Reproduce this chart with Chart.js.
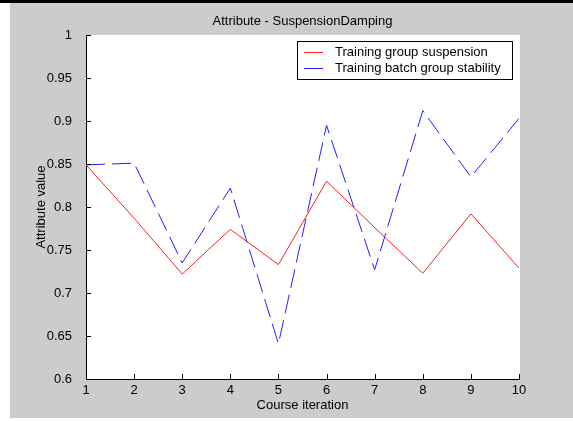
<!DOCTYPE html>
<html>
<head>
<meta charset="utf-8">
<script src="https://cdn.jsdelivr.net/npm/chart.js@4"></script>
<style>
  html, body { margin: 0; padding: 0; background: #fff; }
  #wrap { width: 573px; height: 421px; position: relative; }
</style>
</head>
<body>
<div id="wrap"><canvas id="attrChart" width="573" height="421"></canvas></div>
<script>
const ITERATIONS = ['1', '2', '3', '4', '5', '6', '7', '8', '9', '10'];
const SUSPENSION = [0.849, 0.787, 0.722, 0.774, 0.733, 0.830, 0.776, 0.723, 0.792, 0.729];
const STABILITY  = [0.849, 0.851, 0.735, 0.822, 0.641, 0.895, 0.727, 0.912, 0.835, 0.903];
const SERIES_NAMES = ['Training group suspension', 'Training batch group stability'];
const TITLE = 'Attribute - SuspensionDamping';

const FONT = "'Liberation Sans', Arial, sans-serif";
const FONT_SIZE = 13;

// figure backdrop: dark strip on top, grey panel, white axes area
const backdrop = {
  id: 'backdrop',
  beforeDraw(chart) {
    const { ctx, chartArea: { left, top, right, bottom } } = chart;
    ctx.save();
    ctx.fillStyle = '#fff';
    ctx.fillRect(0, 0, chart.width, chart.height);
    ctx.fillStyle = '#000';
    ctx.fillRect(0, 0, chart.width, 3);
    ctx.fillStyle = '#cccccc';
    ctx.fillRect(10, 3, chart.width - 10, 415);
    ctx.fillStyle = '#fff';
    ctx.fillRect(left, top, right - left + 1, bottom - top);
    ctx.restore();
  },
};

// short tick marks pointing into the axes, plus title and legend box
const decorations = {
  id: 'decorations',
  afterDraw(chart) {
    const { ctx, scales: { x, y }, chartArea } = chart;
    ctx.save();
    ctx.strokeStyle = '#000';
    ctx.lineWidth = 1;
    ctx.beginPath();
    x.ticks.forEach((t, i) => {
      const px = Math.round(x.getPixelForTick(i)) + 0.5;
      ctx.moveTo(px, chartArea.bottom);
      ctx.lineTo(px, chartArea.bottom - 5);
    });
    y.ticks.forEach((t, i) => {
      const py = Math.round(y.getPixelForTick(i)) + 0.5;
      ctx.moveTo(chartArea.left, py);
      ctx.lineTo(chartArea.left + 5, py);
    });
    ctx.stroke();

    ctx.fillStyle = '#000';
    ctx.font = FONT_SIZE + 'px ' + FONT;
    ctx.textAlign = 'center';
    ctx.textBaseline = 'middle';
    ctx.fillText(TITLE, (chartArea.left + chartArea.right) / 2, 21);

    // legend
    const bx = 297, by = 41, bw = 215, bh = 38;
    ctx.fillStyle = '#fff';
    ctx.fillRect(bx, by, bw, bh);
    ctx.strokeStyle = '#000';
    ctx.strokeRect(bx + 0.5, by + 0.5, bw, bh);
    ctx.textAlign = 'left';
    chart.data.datasets.forEach((ds, i) => {
      const ly = 52.5 + i * 16;
      ctx.strokeStyle = ds.borderColor;
      ctx.beginPath();
      ctx.moveTo(304, ly);
      ctx.lineTo(323, ly);
      ctx.stroke();
      ctx.fillStyle = '#000';
      ctx.fillText(ds.label, 335, ly);
    });
    ctx.restore();
  },
};

new Chart(document.getElementById('attrChart').getContext('2d'), {
  type: 'line',
  plugins: [backdrop, decorations],
  data: {
    labels: ITERATIONS,
    datasets: [
      {
        label: SERIES_NAMES[0],
        data: SUSPENSION,
        borderColor: '#ff2020',
        borderWidth: 1,
        pointRadius: 0,
        tension: 0,
        fill: false,
      },
      {
        label: SERIES_NAMES[1],
        data: STABILITY,
        borderColor: '#2020ff',
        borderWidth: 1,
        borderDash: [19, 7],
        pointRadius: 0,
        tension: 0,
        fill: false,
      },
    ],
  },
  options: {
    responsive: false,
    animation: false,
    devicePixelRatio: 1,
    layout: { padding: { left: 0, top: 35, right: 54, bottom: 0 } },
    plugins: {
      legend: { display: false },
      tooltip: { enabled: false },
    },
    scales: {
      x: {
        type: 'category',
        offset: false,
        grid: { display: false, offset: false },
        border: { display: true, color: '#000', width: 1 },
        ticks: { color: '#000', padding: -4, font: { family: FONT, size: FONT_SIZE }, maxRotation: 0, autoSkip: false },
        title: { display: true, text: 'Course iteration', color: '#000', font: { family: FONT, size: FONT_SIZE }, padding: { top: 0, bottom: 8 } },
        afterFit(scale) { scale.height = 42; },
      },
      y: {
        min: 0.6,
        max: 1,
        grid: { display: false },
        border: { display: true, color: '#000', width: 1 },
        ticks: {
          stepSize: 0.05,
          color: '#000',
          padding: 6,
          font: { family: FONT, size: FONT_SIZE },
          callback: v => String(Number(v.toFixed(2))),
        },
        title: { display: true, text: 'Attribute value', color: '#000', font: { family: FONT, size: FONT_SIZE }, padding: { top: 34, bottom: 0 } },
        afterFit(scale) { scale.width = 86; },
      },
    },
  },
});
</script>
</body>
</html>
